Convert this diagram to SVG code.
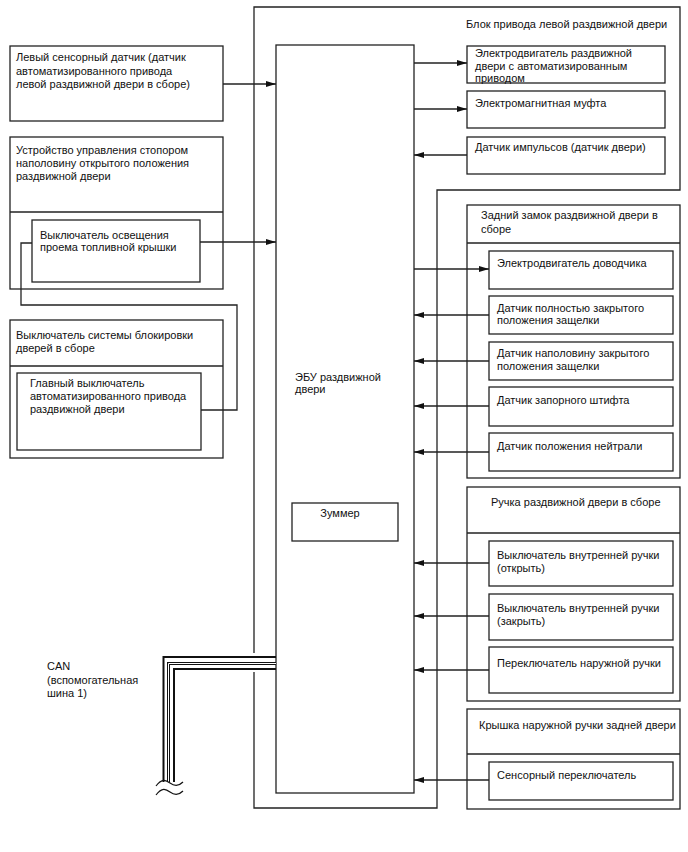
<svg xmlns="http://www.w3.org/2000/svg" width="688" height="852" viewBox="0 0 688 852">
<style>
.b{fill:none;stroke:#222;stroke-width:1.3}
.c{fill:none;stroke:#222;stroke-width:1.3}
.a{fill:none;stroke:#222;stroke-width:1.3;marker-end:url(#ah)}
text{font-family:"Liberation Sans",Arial,sans-serif;font-size:11px;fill:#111}
</style>
<defs>
<marker id="ah" viewBox="0 0 10 6" refX="10" refY="3" markerWidth="10" markerHeight="6" markerUnits="userSpaceOnUse" orient="auto">
<path d="M0,0 L10,3 L0,6 Z" fill="#111"/>
</marker>
</defs>
<rect width="688" height="852" fill="#fff"/>

<g id="drive-unit">
<path class="b" d="M254,653 V7 H680 V190 H437 V808 H254 V672"/>
<text x="466" y="28">Блок привода левой раздвижной двери</text>
</g>

<g id="ecu">
<rect class="b" x="276" y="45" width="138" height="748"/>
<text x="295" y="381">ЭБУ раздвижной</text>
<text x="295" y="393">двери</text>
</g>

<g id="buzzer">
<rect class="b" x="292" y="503" width="106" height="38"/>
<text x="340" y="517" text-anchor="middle">Зуммер</text>
</g>

<g id="left-touch-sensor">
<rect class="b" x="10" y="46" width="213" height="75"/>
<text x="16" y="61">Левый сенсорный датчик (датчик</text>
<text x="16" y="75">автоматизированного привода</text>
<text x="16" y="88">левой раздвижной двери в сборе)</text>
</g>

<g id="half-open-stopper">
<rect class="b" x="10" y="137" width="213" height="152"/>
<line class="b" x1="10" y1="212" x2="223" y2="212"/>
<text x="16" y="154">Устройство управления стопором</text>
<text x="16" y="167">наполовину открытого положения</text>
<text x="16" y="180">раздвижной двери</text>
</g>

<g id="fuel-lid-switch">
<rect class="b" x="32" y="220" width="168" height="62"/>
<text x="40" y="239">Выключатель освещения</text>
<text x="40" y="251">проема топливной крышки</text>
</g>

<g id="door-lock-switch">
<rect class="b" x="10" y="320" width="213" height="138"/>
<line class="b" x1="10" y1="366" x2="223" y2="366"/>
<text x="16" y="339">Выключатель системы блокировки</text>
<text x="16" y="352">дверей в сборе</text>
</g>

<g id="main-switch">
<rect class="b" x="17" y="373" width="184" height="77"/>
<text x="30" y="387">Главный выключатель</text>
<text x="30" y="400">автоматизированного привода</text>
<text x="30" y="413">раздвижной двери</text>
</g>

<g id="slide-motor">
<rect class="b" x="467" y="46" width="198" height="37"/>
<text x="475" y="57">Электродвигатель раздвижной</text>
<text x="475" y="69.5">двери с автоматизированным</text>
<text x="475" y="82">приводом</text>
</g>

<g id="clutch">
<rect class="b" x="467" y="91" width="198" height="37"/>
<text x="475" y="107">Электромагнитная муфта</text>
</g>

<g id="pulse-sensor">
<rect class="b" x="467" y="137" width="198" height="37"/>
<text x="475" y="151">Датчик импульсов (датчик двери)</text>
</g>

<g id="rear-lock">
<rect class="b" x="467" y="205" width="213" height="273"/>
<line class="b" x1="467" y1="243" x2="680" y2="243"/>
<text x="481" y="219">Задний замок раздвижной двери в</text>
<text x="481" y="233">сборе</text>
</g>

<g id="closer-motor">
<rect class="b" x="489" y="251" width="184" height="38"/>
<text x="497" y="267">Электродвигатель доводчика</text>
</g>

<g id="full-latch">
<rect class="b" x="489" y="296" width="184" height="38"/>
<text x="497" y="312">Датчик полностью закрытого</text>
<text x="497" y="324">положения защелки</text>
</g>

<g id="half-latch">
<rect class="b" x="489" y="342" width="184" height="38"/>
<text x="497" y="357">Датчик наполовину закрытого</text>
<text x="497" y="370">положения защелки</text>
</g>

<g id="pawl-switch">
<rect class="b" x="489" y="387" width="184" height="39"/>
<text x="497" y="404">Датчик запорного штифта</text>
</g>

<g id="neutral-switch">
<rect class="b" x="489" y="433" width="184" height="38"/>
<text x="497" y="450">Датчик положения нейтрали</text>
</g>

<g id="handle">
<rect class="b" x="467" y="487" width="213" height="214"/>
<line class="b" x1="467" y1="533" x2="680" y2="533"/>
<text x="491" y="506">Ручка раздвижной двери в сборе</text>
</g>

<g id="inside-open">
<rect class="b" x="489" y="541" width="184" height="45"/>
<text x="497" y="559">Выключатель внутренней ручки</text>
<text x="497" y="572">(открыть)</text>
</g>

<g id="inside-close">
<rect class="b" x="489" y="594" width="184" height="46"/>
<text x="497" y="612">Выключатель внутренней ручки</text>
<text x="497" y="625">(закрыть)</text>
</g>

<g id="outside-switch">
<rect class="b" x="489" y="647" width="184" height="46"/>
<text x="497" y="667">Переключатель наружной ручки</text>
</g>

<g id="cover">
<rect class="b" x="467" y="709" width="213" height="100"/>
<line class="b" x1="467" y1="754" x2="680" y2="754"/>
<text x="479" y="729">Крышка наружной ручки задней двери</text>
</g>

<g id="touch-switch">
<rect class="b" x="489" y="762" width="184" height="38"/>
<text x="497" y="779">Сенсорный переключатель</text>
</g>

<g id="can-label">
<text x="47" y="670">CAN</text>
<text x="47" y="684">(вспомогательная</text>
<text x="47" y="697">шина 1)</text>
</g>

<g id="connectors">
<line class="a" x1="223" y1="84" x2="276" y2="84"/>
<line class="a" x1="200" y1="242" x2="276" y2="242"/>
<path class="c" d="M32,243 H21 V305 H237 V410 H201"/>
<line class="a" x1="414" y1="63" x2="467" y2="63"/>
<line class="a" x1="414" y1="109" x2="467" y2="109"/>
<line class="a" x1="467" y1="155" x2="414" y2="155"/>
<line class="a" x1="414" y1="269" x2="489" y2="269"/>
<line class="a" x1="489" y1="315" x2="414" y2="315"/>
<line class="a" x1="489" y1="361" x2="414" y2="361"/>
<line class="a" x1="489" y1="406" x2="414" y2="406"/>
<line class="a" x1="489" y1="452" x2="414" y2="452"/>
<line class="a" x1="489" y1="563" x2="414" y2="563"/>
<line class="a" x1="489" y1="616" x2="414" y2="616"/>
<line class="a" x1="489" y1="670" x2="414" y2="670"/>
<line class="a" x1="489" y1="780" x2="414" y2="780"/>
<g id="can-bus" fill="none">
<path d="M276,657 H163.5 V782" stroke="#111" stroke-width="2"/>
<path d="M276,663.5 H168.5 V782" stroke="#111" stroke-width="3"/>
<path d="M276,663.5 H168.5 V782" stroke="#fff" stroke-width="1"/>
<path d="M276,669 H174 V782" stroke="#111" stroke-width="2"/>
<path d="M156,786 C162,778 166,780 170,783 C174,786 178,787 183,782" stroke="#111" stroke-width="1.2"/>
<path d="M156,795 C162,787 166,789 170,792 C174,795 178,796 183,791" stroke="#111" stroke-width="1.2"/>
</g>
</g>
</svg>
